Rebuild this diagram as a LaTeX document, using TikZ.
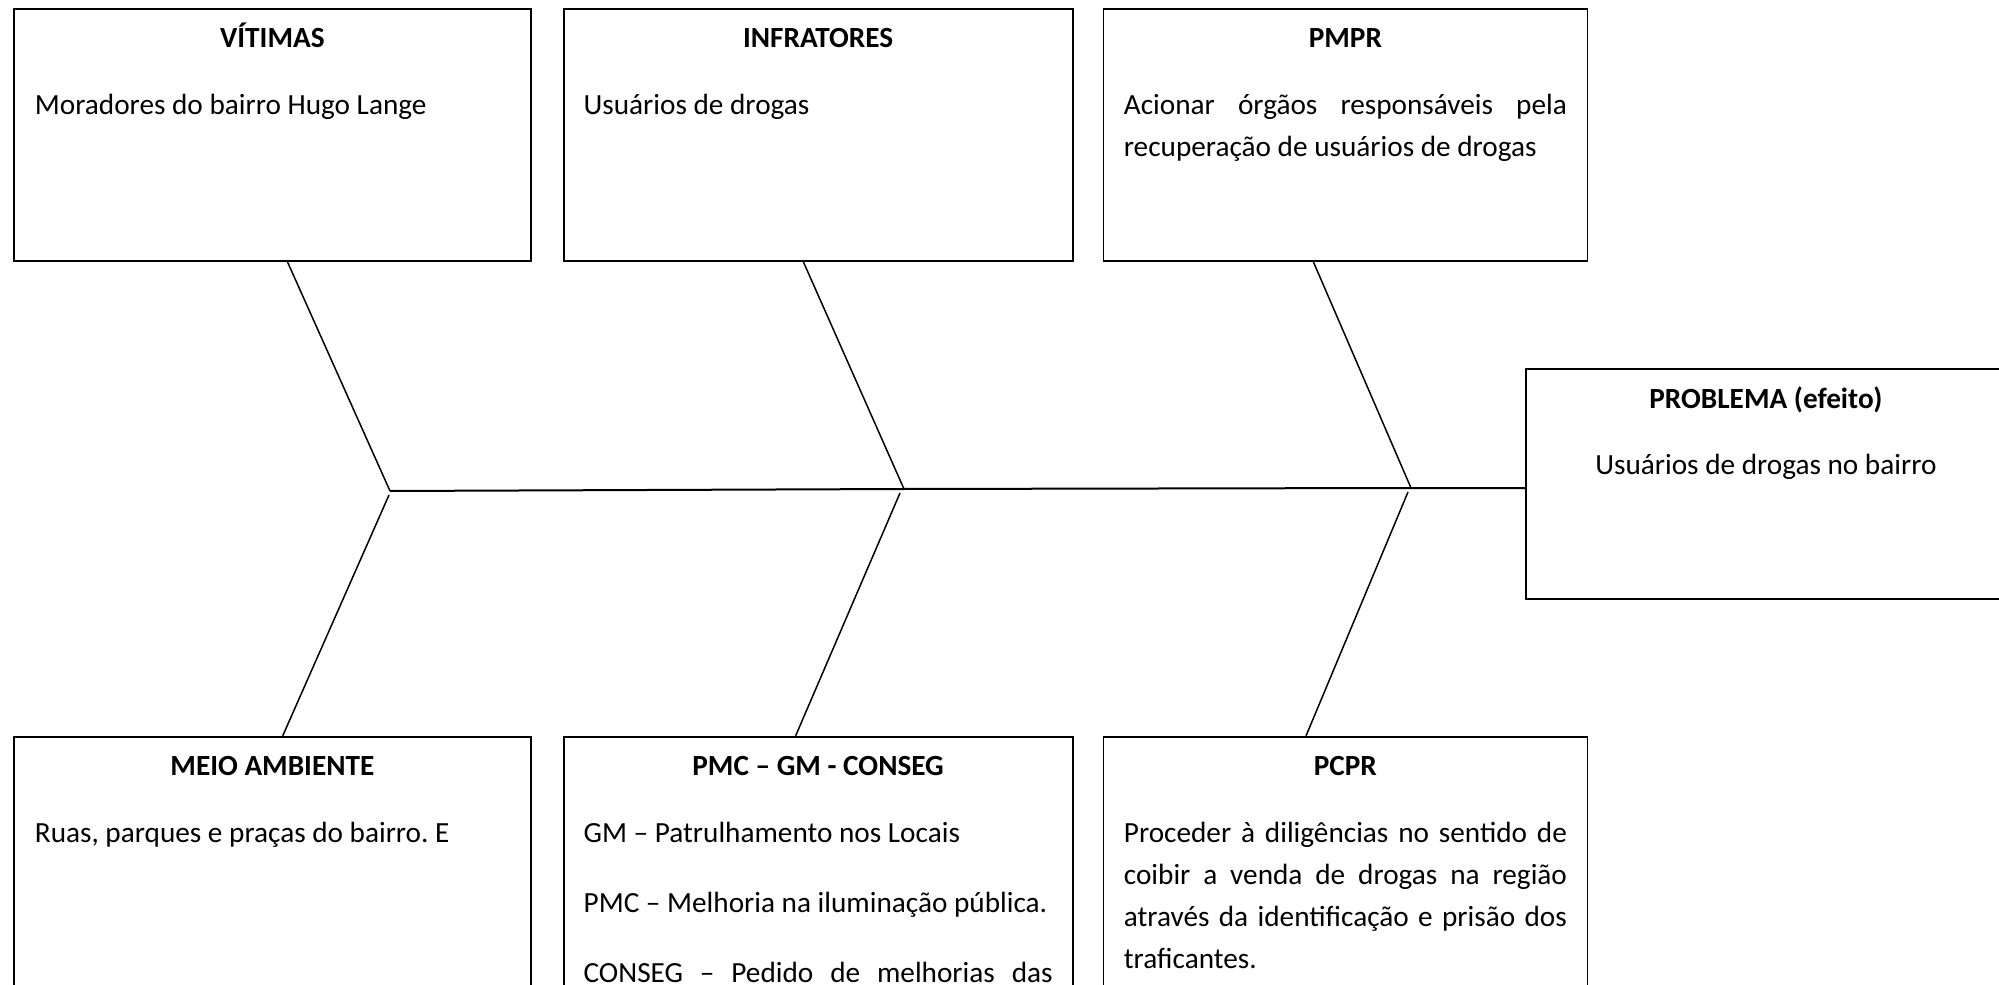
\documentclass[tikz,border=0pt]{standalone}
\usepackage{fontspec}
\setmainfont{Carlito}
\usetikzlibrary{positioning,calc}
\hyphenpenalty=10000
\exhyphenpenalty=10000
\tolerance=10000
\frenchspacing
% caixa{altura}{largura}{titulo}{texto}
\newcommand{\caixa}[4]{\parbox[t][#1][t]{#2}{\hyphenpenalty=10000\tolerance=10000%
{\centering\rule{0pt}{15.6pt}\textbf{#3}\par}\vspace{10pt}#4\par}}

\begin{document}
\begin{tikzpicture}[x=0.4pt,y=-0.4pt,font=\fontsize{11.7}{16.8}\selectfont,
	causa/.style={draw,line width=0.7pt,inner ysep=0pt},
	espinha/.style={line width=0.8pt},
	osso/.style={line width=0.6pt}]
\useasboundingbox (0,0) rectangle (1999,985);
\clip (0,0) rectangle (1999,985);

\node[causa,inner xsep=8.4pt,anchor=north west]	(vitimas)	at (13,8)					{\caixa{100.8pt}{190pt}{VÍTIMAS}{Moradores do bairro Hugo Lange}};
\node[causa,inner xsep=8pt]						(infratores)	[right=12.4pt of vitimas]		{\caixa{100.8pt}{187.6pt}{INFRATORES}{Usuários de drogas}};
\node[causa,inner xsep=8.2pt]					(pmpr)		[right=11.6pt of infratores]	{\caixa{100.8pt}{177.2pt}{PMPR}{Acionar órgãos responsáveis pela recuperação de usuários de drogas}};
\node[causa,inner xsep=8.4pt]					(meio)		[below=189.6pt of vitimas]		{\caixa{110pt}{190pt}{MEIO AMBIENTE}{Ruas, parques e praças do bairro. E}};
\node[causa,inner xsep=8pt]						(pmc)		[below=189.6pt of infratores]	{\caixa{110pt}{187.6pt}{PMC – GM - CONSEG}{GM – Patrulhamento nos Locais\par\vspace{11.2pt}PMC – Melhoria na iluminação pública.\par\vspace{11.2pt}{\parfillskip=0pt CONSEG – Pedido de melhorias das\par}}};
\node[causa,inner xsep=8.2pt]					(pcpr)		[below=189.6pt of pmpr]		{\caixa{110pt}{177.2pt}{PCPR}{Proceder à diligências no sentido de coibir a venda de drogas na região através da identificação e prisão dos traficantes.}};
\node[causa,inner xsep=8pt,anchor=north west]		(problema)	at (1525,368)				{\parbox[t][92pt][t]{176pt}{\centering\rule{0pt}{16pt}\textbf{PROBLEMA (efeito)}\par\vspace{9.5pt}Usuários de drogas no bairro\par}};

% espinha
\coordinate (e1) at (390,491);
\coordinate (e2) at (904,489);
\coordinate (e3) at (1411,488);
\coordinate (b1) at (389,495);
\coordinate (b2) at (900,493);
\coordinate (b3) at (1408,492);
\draw[espinha] (e1) -- (e2) -- (e3) -- (problema.west |- e3);

\draw[osso] ($(vitimas.south west)!.529!(vitimas.south east)$) -- (e1);
\draw[osso] ($(infratores.south west)!.471!(infratores.south east)$) -- (e2);
\draw[osso] ($(pmpr.south west)!.434!(pmpr.south east)$) -- (e3);
\draw[osso] (b1) -- ($(meio.north west)!.520!(meio.north east)$);
\draw[osso] (b2) -- ($(pmc.north west)!.456!(pmc.north east)$);
\draw[osso] (b3) -- ($(pcpr.north west)!.419!(pcpr.north east)$);
\end{tikzpicture}
\end{document}
